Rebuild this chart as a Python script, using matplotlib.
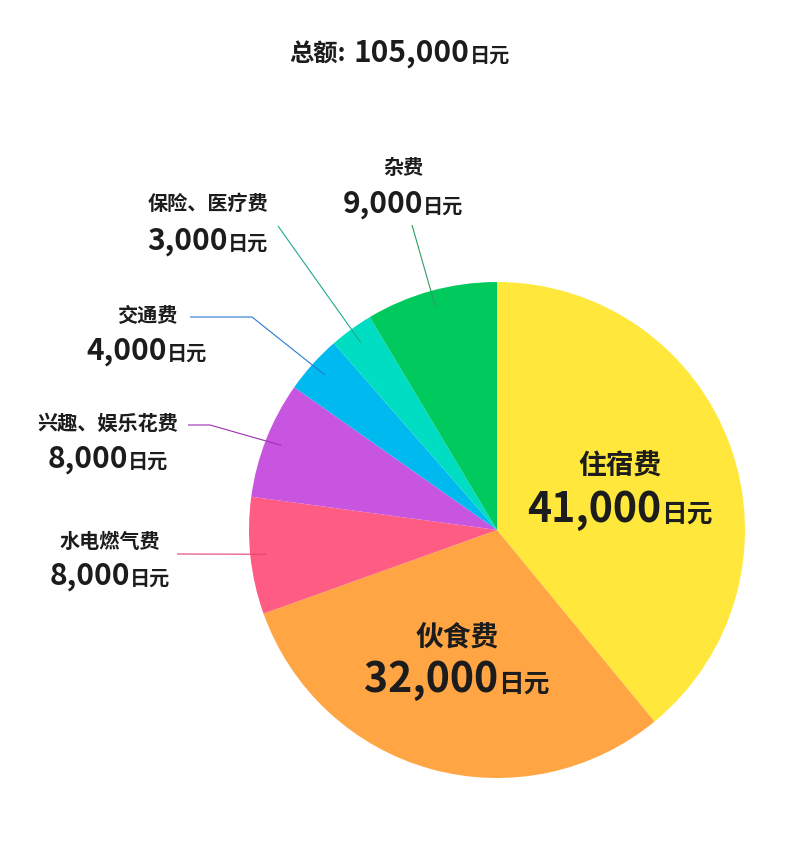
import numpy as np
import matplotlib
matplotlib.use("Agg")
import matplotlib.pyplot as plt

plt.rcParams['font.family'] = ['Noto Sans CJK SC', 'DejaVu Sans']

# ---- data ----
categories = ["住宿费", "伙食费", "水电燃气费", "兴趣、娱乐花费", "交通费", "保险、医疗费", "杂费"]
values = [41000, 32000, 8000, 8000, 4000, 3000, 9000]
unit = "日元"
total_label = "总额:"
colors = ["#FFE83B", "#FFA544", "#FF5C84", "#C855E0", "#00B9EF", "#00DDC2", "#00C95D"]
line_colors = [None, None, "#E8406F", "#9B30B0", "#2A7AD0", "#21A88E", "#2E9E62"]

W, H = 800, 852
fig = plt.figure(figsize=(W / 100, H / 100), dpi=100)
ax = fig.add_axes([0, 0, 1, 1])

def Y(py):
    return H - py

cx, cy, R = 497, Y(530), 248
ax.pie(values, colors=colors, startangle=90, counterclock=False,
       center=(cx, cy), radius=R, frame=True,
       wedgeprops=dict(linewidth=0))
ax.set_xlim(0, W)
ax.set_ylim(0, H)
ax.set_aspect("equal")
ax.axis("off")

TXT = "#1c1c1c"
renderer = fig.canvas.get_renderer()

def mixed(xc, base_py, parts, gaps):
    """parts: list of (text, size) drawn bold on a common baseline, centred at xc."""
    objs = []
    for s, size in parts:
        t = ax.text(0, Y(base_py), s, fontsize=size, fontweight="bold",
                    color=TXT, ha="left", va="baseline")
        objs.append(t)
    widths = [t.get_window_extent(renderer).width for t in objs]
    gaps = list(gaps) + [0]
    total = sum(widths) + sum(gaps[:-1])
    x = xc - total / 2
    for t, w, g in zip(objs, widths, gaps):
        t.set_x(x)
        x += w + g

def fmt(v):
    return f"{v:,}"

# title
mixed(400, 62, [(total_label, 17.5), (fmt(sum(values)), 21.5), (unit, 14.5)], gaps=[7, 1])

# wedge mid angles
cum = np.cumsum([0] + values)
tot = float(sum(values))
mids = [90 - 360 * (cum[i] + values[i] / 2) / tot for i in range(len(values))]

def edge_pt(i, f=0.935):
    a = np.deg2rad(mids[i])
    return cx + f * R * np.cos(a), cy + f * R * np.sin(a)

# inside labels
inside = {0: (620, 467, 522), 1: (457, 637, 692)}
for i, (xc, ly, by) in inside.items():
    ax.text(xc, Y(ly), categories[i], fontsize=20, fontweight="bold",
            color=TXT, ha="center", va="center")
    mixed(xc, by, [(fmt(values[i]), 29.5), (unit, 18.5)], gaps=[0])

# outside labels: (centre x, label centre y, number baseline y, leader path start points)
outside = {
    2: (110, 541, 585, [(177, 554)]),
    3: (108, 423, 468, [(188, 425), (210, 425)]),
    4: (147, 315, 360, [(190, 317), (252, 317)]),
    5: (208, 204, 250, [(278, 226)]),
    6: (403, 167, 213, [(412, 225)]),
}
for i, (xc, ly, by, path) in outside.items():
    ax.text(xc, Y(ly), categories[i], fontsize=14.5, fontweight="bold",
            color=TXT, ha="center", va="center")
    mixed(xc, by, [(fmt(values[i]), 21.5), (unit, 14.5)], gaps=[0])
    ex, ey = edge_pt(i)
    xs = [p[0] for p in path] + [ex]
    ys = [Y(p[1]) for p in path] + [ey]
    ax.plot(xs, ys, color=line_colors[i], lw=0.8, solid_capstyle="butt")

fig.savefig("out.png", dpi=100, facecolor="white")
